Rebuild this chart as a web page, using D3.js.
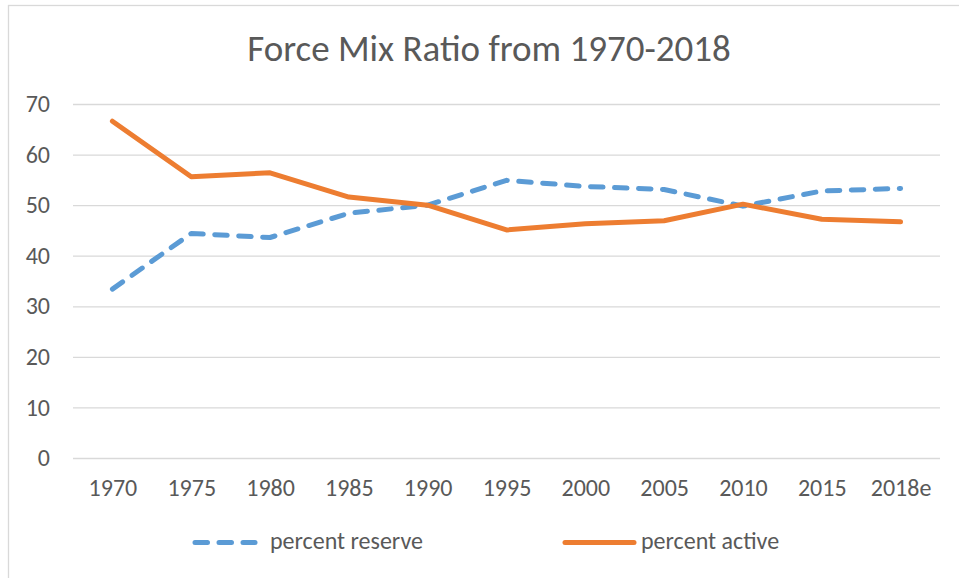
<!DOCTYPE html>
<html>
<head>
<meta charset="utf-8">
<script src="https://cdn.jsdelivr.net/npm/d3@7"></script>
<style>
  body { margin: 0; background: #fff; }
  text { font-family: Carlito, Calibri, "Liberation Sans", Arial, sans-serif; fill: #595959; }
</style>
</head>
<body>
<svg id="chart" width="959" height="578"></svg>
<script>
// chart data
var years = ["1970","1975","1980","1985","1990","1995","2000","2005","2010","2015","2018e"];
var pct_reserve = [33.4, 44.4, 43.6, 48.4, 50.0, 54.9, 53.7, 53.1, 49.8, 52.8, 53.3];
var pct_active  = [66.6, 55.6, 56.4, 51.6, 50.0, 45.1, 46.3, 46.9, 50.2, 47.2, 46.7];
var y_ticks = [0, 10, 20, 30, 40, 50, 60, 70];

var series = [
  {name: "percent reserve", values: pct_reserve, color: "#5b9bd5", dash: "12.5,11.5"},
  {name: "percent active",  values: pct_active,  color: "#ed7d31", dash: null}
];

var width = 959, height = 578;
var plot = {left: 73, right: 940, top: 104, bottom: 458};
var font = "Carlito, Calibri, 'Liberation Sans', Arial, sans-serif";

var svg = d3.select("#chart");

// outer border of the chart area
svg.append("rect")
  .attr("x", 8.5).attr("y", 5.5)
  .attr("width", width + 10).attr("height", height + 10)
  .attr("fill", "none").attr("stroke", "#d9d9d9").attr("stroke-width", 1.3);

var x = d3.scalePoint().domain(years).range([plot.left, plot.right]).padding(0.5);
var y = d3.scaleLinear().domain([0, 70]).range([plot.bottom, plot.top]);

// title
svg.append("text")
  .attr("x", 489).attr("y", 61)
  .attr("text-anchor", "middle")
  .style("font-size", "37px")
  .text("Force Mix Ratio from 1970-2018");

// gridlines + y labels
var yAxis = d3.axisLeft(y).tickValues(y_ticks).tickSize(-(plot.right - plot.left)).tickPadding(23);
var yg = svg.append("g").attr("transform", "translate(" + plot.left + ",0)").call(yAxis);
yg.select(".domain").remove();
yg.selectAll(".tick line").attr("stroke", "#d9d9d9").attr("stroke-width", 1.3);
yg.selectAll(".tick text").attr("fill", "#595959").style("font-size", "24px").style("font-family", font);

// x labels
var xAxis = d3.axisBottom(x).tickSize(0).tickPadding(21);
var xg = svg.append("g").attr("transform", "translate(0," + plot.bottom + ")").call(xAxis);
xg.select(".domain").remove();
xg.selectAll(".tick text").attr("fill", "#595959").style("font-size", "24px").style("font-family", font);

// lines
var line = d3.line()
  .x(function(d, i) { return x(years[i]); })
  .y(function(d) { return y(d); });

series.forEach(function(s) {
  svg.append("path")
    .datum(s.values)
    .attr("d", line)
    .attr("fill", "none")
    .attr("stroke", s.color)
    .attr("stroke-width", 5)
    .attr("stroke-linejoin", "round")
    .attr("stroke-linecap", "round")
    .attr("stroke-dasharray", s.dash);
});

// legend
var legend_pos = [{x1: 195, x2: 255, tx: 270}, {x1: 565, x2: 634, tx: 641}];
series.forEach(function(s, i) {
  var p = legend_pos[i];
  svg.append("line")
    .attr("x1", p.x1).attr("x2", p.x2)
    .attr("y1", 542.5).attr("y2", 542.5)
    .attr("stroke", s.color)
    .attr("stroke-width", 5)
    .attr("stroke-linecap", "round")
    .attr("stroke-dasharray", s.dash);
  svg.append("text")
    .attr("x", p.tx).attr("y", 549)
    .style("font-size", "24px")
    .text(s.name);
});
</script>
</body>
</html>
